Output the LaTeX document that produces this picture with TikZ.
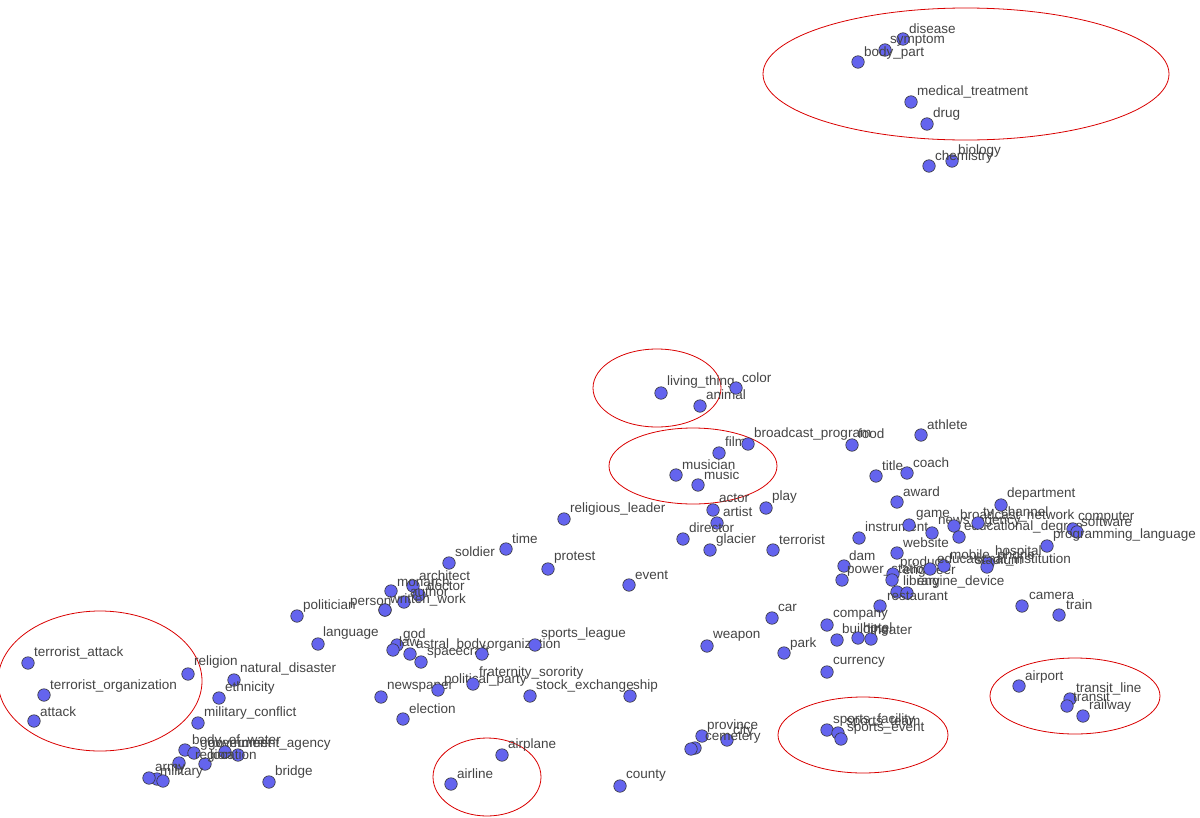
\documentclass[tikz,border=0pt]{standalone}
\usepackage{fontspec}
\setmainfont{Liberation Sans}
\definecolor{dotc}{HTML}{6464EE}
\definecolor{txt}{HTML}{444444}
\tikzset{dot/.style={circle,draw=black!80,fill=dotc,line width=0.6pt,inner sep=0pt,minimum size=12.5pt},
lab/.style={anchor=west,text=txt,inner sep=0pt,font=\fontsize{13.5}{13.5}\selectfont},
ring/.style={draw=red!85!black,line width=0.8pt}}
\newcounter{pc}
\newcommand{\pp}[5]{\stepcounter{pc}\node[dot] (d\arabic{pc}) at (#2,-#3) {}; \node[lab] (l\arabic{pc}) at (#4,-#5) {#1};}
\begin{document}
\begin{tikzpicture}[x=1pt,y=1pt]
\useasboundingbox (0,0) rectangle (1200,-817);
\draw[ring] (966,-74) ellipse (203 and 66);
\draw[ring] (657,-388) ellipse (64 and 39);
\draw[ring] (693,-466) ellipse (84 and 38);
\draw[ring] (100,-681) ellipse (102 and 70);
\draw[ring] (487,-777) ellipse (54 and 39);
\draw[ring] (863,-735) ellipse (85 and 38);
\draw[ring] (1075,-696) ellipse (85 and 38);
\pp{disease}{903}{39}{909}{29}
\pp{symptom}{885}{50}{890}{41}
\pp{body\_part}{858}{62}{864}{53}
\pp{medical\_treatment}{911}{102}{917}{92}
\pp{drug}{927}{124}{933}{114}
\pp{biology}{952}{161}{958}{151}
\pp{chemistry}{929}{166}{935}{157}
\pp{living\_thing}{661}{393}{667}{382}
\pp{animal}{700}{406}{706}{395}
\pp{color}{736}{388}{742}{378}
\pp{film}{719}{453}{725}{442}
\pp{broadcast\_program}{748}{444}{754}{434}
\pp{food}{852}{445}{858}{434}
\pp{athlete}{921}{435}{927}{425}
\pp{musician}{676}{475}{682}{465}
\pp{music}{698}{485}{704}{475}
\pp{title}{876}{476}{882}{466}
\pp{coach}{907}{473}{913}{463}
\pp{award}{897}{502}{903}{492}
\pp{actor}{713}{510}{719}{498}
\pp{artist}{717}{523}{723}{512}
\pp{play}{766}{508}{772}{497}
\pp{religious\_leader}{564}{519}{570}{509}
\pp{director}{683}{539}{689}{528}
\pp{glacier}{710}{550}{716}{540}
\pp{terrorist}{773}{550}{779}{540}
\pp{time}{506}{549}{512}{539}
\pp{soldier}{449}{563}{455}{552}
\pp{protest}{548}{569}{554}{558}
\pp{event}{629}{585}{635}{575}
\pp{instrument}{859}{538}{865}{527}
\pp{game}{909}{525}{916}{515}
\pp{website}{897}{553}{903}{543}
\pp{news\_agency}{932}{533}{938}{522}
\pp{broadcast\_network}{954}{526}{960}{516}
\pp{educational\_degree}{959}{537}{964}{527}
\pp{tv\_channel}{978}{523}{983}{513}
\pp{department}{1001}{505}{1007}{494}
\pp{computer}{1073}{529}{1078}{518}
\pp{software}{1077}{532}{1081}{522}
\pp{programming\_language}{1047}{546}{1053}{535}
\pp{dam}{844}{566}{849}{556}
\pp{power\_station}{842}{580}{847}{570}
\pp{product}{893}{574}{900}{563}
\pp{engineer}{892}{580}{903}{571}
\pp{mobile\_phone}{930}{569}{950}{556}
\pp{educational\_institution}{944}{566}{937}{560}
\pp{hospital}{988}{563}{995}{552}
\pp{stadium}{987}{567}{975}{560}
\pp{library}{897}{592}{903}{582}
\pp{engine\_device}{907}{593}{917}{582}
\pp{restaurant}{880}{606}{887}{596}
\pp{camera}{1022}{606}{1029}{596}
\pp{train}{1059}{615}{1066}{605}
\pp{car}{772}{618}{778}{608}
\pp{weapon}{707}{646}{713}{636}
\pp{park}{784}{653}{790}{644}
\pp{company}{827}{625}{833}{615}
\pp{building}{837}{640}{842}{630}
\pp{hotel}{858}{638}{863}{628}
\pp{theater}{871}{639}{870}{630}
\pp{currency}{827}{672}{833}{662}
\pp{architect}{413}{586}{419}{576}
\pp{monarch}{391}{591}{397}{582}
\pp{doctor}{419}{595}{427}{586}
\pp{author}{404}{602}{410}{592}
\pp{person}{385}{610}{350}{603}
\pp{written\_work}{385}{610}{390}{600}
\pp{politician}{297}{616}{303}{606}
\pp{language}{318}{644}{323}{633}
\pp{god}{397}{645}{403}{635}
\pp{law}{393}{650}{399}{642}
\pp{astral\_body}{410}{654}{416}{645}
\pp{spacecraft}{421}{662}{427}{652}
\pp{organization}{482}{654}{487}{645}
\pp{sports\_league}{535}{645}{541}{634}
\pp{newspaper}{381}{697}{387}{687}
\pp{political\_party}{438}{690}{444}{680}
\pp{fraternity\_sorority}{473}{684}{479}{673}
\pp{stock\_exchange}{530}{696}{536}{686}
\pp{ship}{630}{696}{633}{686}
\pp{election}{403}{719}{409}{709}
\pp{terrorist\_attack}{28}{663}{34}{653}
\pp{terrorist\_organization}{44}{695}{50}{686}
\pp{attack}{34}{721}{40}{712}
\pp{religion}{188}{674}{194}{662}
\pp{natural\_disaster}{234}{680}{240}{669}
\pp{ethnicity}{219}{698}{225}{688}
\pp{military\_conflict}{198}{723}{204}{713}
\pp{body\_of\_water}{185}{750}{192}{741}
\pp{government}{194}{753}{200}{745}
\pp{government\_agency}{238}{755}{208}{745}
\pp{location}{225}{752}{210}{755}
\pp{region}{205}{764}{195}{756}
\pp{army}{179}{763}{155}{769}
\pp{military}{157}{779}{160}{772}
\node[dot] (dx1) at (149,-778) {};
\node[dot] (dx2) at (163,-781) {};
\pp{bridge}{269}{782}{275}{772}
\pp{airplane}{502}{755}{508}{745}
\pp{airline}{451}{784}{457}{774}
\pp{province}{702}{736}{707}{726}
\pp{city}{727}{740}{733}{731}
\pp{cemetery}{695}{748}{705}{738}
\node[dot] (dx3) at (691,-749) {};
\pp{county}{620}{786}{626}{776}
\pp{sports\_facility}{827}{730}{833}{720}
\pp{sports\_team}{838}{733}{846}{723}
\pp{sports\_event}{841}{739}{847}{729}
\pp{airport}{1019}{686}{1025}{677}
\pp{transit\_line}{1070}{699}{1076}{689}
\pp{transit}{1067}{706}{1073}{697}
\pp{railway}{1083}{716}{1089}{706}
\end{tikzpicture}
\end{document}
